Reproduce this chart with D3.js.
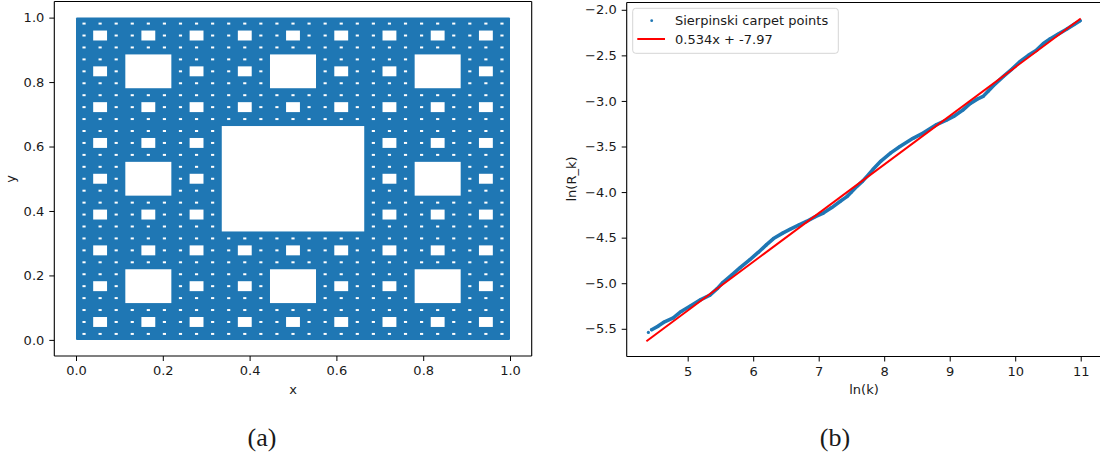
<!DOCTYPE html>
<html>
<head>
<meta charset="utf-8">
<script src="https://cdnjs.cloudflare.com/ajax/libs/d3/7.8.5/d3.min.js"></script>
<style>
  body { margin: 0; background: #fff; }
  svg text { font-family: 'DejaVu Sans', sans-serif; fill: #1a1a1a; }
  .caption { font-family: 'Liberation Serif', serif; }
</style>
</head>
<body>
<svg id="chart" width="1100" height="456"></svg>
<script>
// panel (a): Sierpinski carpet, filled square with holes down to this depth
var carpetExtent = [0, 1];
var carpetDepth = 4;
var carpetTicks = [0, 0.2, 0.4, 0.6, 0.8, 1.0];

// panel (b): ln(k) vs ln(R_k) points
var lnK = [4.40, 4.45, 4.55, 4.63, 4.78, 4.90, 5.04, 5.20, 5.34, 5.45,
  5.54, 5.67, 5.80, 5.95, 6.08, 6.20, 6.31, 6.45, 6.56, 6.70,
  6.82, 6.95, 7.07, 7.20, 7.33, 7.43, 7.50, 7.58, 7.67, 7.76,
  7.83, 7.95, 8.10, 8.24, 8.44, 8.60, 8.80, 8.95, 9.06, 9.20,
  9.31, 9.42, 9.51, 9.59, 9.67, 9.82, 9.95, 10.07, 10.20, 10.33,
  10.43, 10.53, 10.65, 10.79, 10.90, 10.99];
var lnR = [-5.54, -5.51, -5.47, -5.43, -5.38, -5.31, -5.25, -5.18, -5.13, -5.06,
  -4.99, -4.91, -4.83, -4.74, -4.66, -4.58, -4.51, -4.45, -4.41, -4.36,
  -4.32, -4.27, -4.23, -4.17, -4.10, -4.05, -4.00, -3.94, -3.88, -3.81,
  -3.75, -3.66, -3.57, -3.50, -3.41, -3.35, -3.26, -3.21, -3.17, -3.10,
  -3.03, -2.98, -2.95, -2.89, -2.83, -2.73, -2.65, -2.57, -2.50, -2.44,
  -2.37, -2.32, -2.27, -2.21, -2.16, -2.12];
var fitSlope = 0.534;
var fitIntercept = -7.97;
var fitRange = [4.37, 11.0];
var lnKTicks = [5, 6, 7, 8, 9, 10, 11];
var lnRTicks = [-5.5, -5.0, -4.5, -4.0, -3.5, -3.0, -2.5, -2.0];

var blue = '#1f77b4';
var red = '#ff0000';

var svg = d3.select('#chart');
svg.append('rect').attr('width', 1100).attr('height', 456).attr('fill', '#fff');

drawCarpet();
drawScaling();

function holes(x0, y0, size, level, out) {
  if (level === 0) return out;
  var s = size / 3;
  out.push({ x: x0 + s, y: y0 + s, s: s });
  for (var i = 0; i < 3; i++) {
    for (var j = 0; j < 3; j++) {
      if (i === 1 && j === 1) continue;
      holes(x0 + i * s, y0 + j * s, s, level - 1, out);
    }
  }
  return out;
}

function styleAxis(g) {
  g.select('.domain').remove();
  g.selectAll('.tick line').attr('stroke', '#000').attr('stroke-width', 1);
  g.selectAll('.tick text').attr('font-size', 13).attr('fill', '#1a1a1a');
}

function frame(g, x, y, clipRight) {
  var r = x.range(), t = y.range();
  var right = Math.min(r[1], 1100);
  g.append('line').attr('x1', r[0]).attr('x2', r[0]).attr('y1', t[0]).attr('y2', t[1]);
  g.append('line').attr('x1', r[0]).attr('x2', right).attr('y1', t[0]).attr('y2', t[0]);
  g.append('line').attr('x1', r[0]).attr('x2', right).attr('y1', t[1]).attr('y2', t[1]);
  if (!clipRight) {
    g.append('line').attr('x1', r[1]).attr('x2', r[1]).attr('y1', t[0]).attr('y2', t[1]);
  }
  g.selectAll('line').attr('stroke', '#000').attr('stroke-width', 1.1);
}

function drawCarpet() {
  var x = d3.scaleLinear().domain([-0.05, 1.05]).range([54.3, 531.7]);
  var y = d3.scaleLinear().domain([-0.05, 1.05]).range([356, 1.5]);
  var g = svg.append('g');

  g.append('rect')
    .attr('x', x(carpetExtent[0]))
    .attr('y', y(carpetExtent[1]))
    .attr('width', x(carpetExtent[1]) - x(carpetExtent[0]))
    .attr('height', y(carpetExtent[0]) - y(carpetExtent[1]))
    .attr('rx', 1)
    .attr('fill', blue);

  var size = carpetExtent[1] - carpetExtent[0];
  g.append('g').selectAll('rect')
    .data(holes(carpetExtent[0], carpetExtent[0], size, carpetDepth, []))
    .enter().append('rect')
    .attr('x', function(d) { return x(d.x) + 1.1; })
    .attr('y', function(d) { return y(d.y + d.s) + 1; })
    .attr('width', function(d) { return x(d.x + d.s) - x(d.x) - 2.2; })
    .attr('height', function(d) { return y(d.y) - y(d.y + d.s) - 2; })
    .attr('fill', '#fff');

  g.append('g')
    .attr('transform', 'translate(0,356)')
    .call(d3.axisBottom(x).tickValues(carpetTicks).tickFormat(d3.format('.1f')).tickSize(5).tickPadding(5))
    .call(styleAxis);
  g.append('g')
    .attr('transform', 'translate(54.3,0)')
    .call(d3.axisLeft(y).tickValues(carpetTicks).tickFormat(d3.format('.1f')).tickSize(5).tickPadding(5))
    .call(styleAxis);

  frame(g.append('g'), x, y, false);

  g.append('text').attr('x', 293).attr('y', 394).attr('text-anchor', 'middle')
    .attr('font-size', 13).text('x');
  g.append('text').attr('transform', 'translate(15,179) rotate(-90)').attr('text-anchor', 'middle')
    .attr('font-size', 13).text('y');
  g.append('text').attr('class', 'caption').attr('x', 262).attr('y', 446)
    .attr('text-anchor', 'middle').attr('font-size', 26).text('(a)');
}

function drawScaling() {
  var x = d3.scaleLinear().domain([4.069, 11.331]).range([626.7, 1102.4]);
  var y = d3.scaleLinear().domain([-5.804, -1.92]).range([356.5, 2.5]);
  var g = svg.append('g');
  var pts = lnK.map(function(k, i) { return [k, lnR[i]]; });

  var line = d3.line()
    .x(function(d) { return x(d[0]); })
    .y(function(d) { return y(d[1]); });

  g.append('path')
    .datum(pts.slice(1))
    .attr('d', line)
    .attr('fill', 'none')
    .attr('stroke', blue)
    .attr('stroke-width', 3.6)
    .attr('stroke-linejoin', 'round')
    .attr('stroke-linecap', 'round');

  g.append('g').selectAll('circle')
    .data(pts)
    .enter().append('circle')
    .attr('cx', function(d) { return x(d[0]); })
    .attr('cy', function(d) { return y(d[1]); })
    .attr('r', 1.6)
    .attr('fill', blue);

  g.append('path')
    .datum(fitRange.map(function(k) { return [k, fitSlope * k + fitIntercept]; }))
    .attr('d', line)
    .attr('fill', 'none')
    .attr('stroke', red)
    .attr('stroke-width', 2);

  g.append('g')
    .attr('transform', 'translate(0,356.5)')
    .call(d3.axisBottom(x).tickValues(lnKTicks).tickFormat(d3.format('d')).tickSize(5).tickPadding(5))
    .call(styleAxis);
  g.append('g')
    .attr('transform', 'translate(626.7,0)')
    .call(d3.axisLeft(y).tickValues(lnRTicks).tickFormat(d3.format('.1f')).tickSize(5).tickPadding(5))
    .call(styleAxis);

  frame(g.append('g'), x, y, true);

  g.append('text').attr('x', 864).attr('y', 394).attr('text-anchor', 'middle')
    .attr('font-size', 13).text('ln(k)');
  g.append('text').attr('transform', 'translate(576,179) rotate(-90)').attr('text-anchor', 'middle')
    .attr('font-size', 13).text('ln(R_k)');
  g.append('text').attr('class', 'caption').attr('x', 835).attr('y', 446)
    .attr('text-anchor', 'middle').attr('font-size', 26).text('(b)');

  // legend
  var lg = g.append('g');
  lg.append('rect')
    .attr('x', 632.7).attr('y', 8.3).attr('width', 205.6).attr('height', 45)
    .attr('rx', 3).attr('fill', '#fff').attr('fill-opacity', 0.8)
    .attr('stroke', '#d5d5d5').attr('stroke-width', 1);
  lg.append('circle').attr('cx', 651.7).attr('cy', 20.7).attr('r', 1.4).attr('fill', blue);
  lg.append('line').attr('x1', 637.3).attr('x2', 665).attr('y1', 39).attr('y2', 39)
    .attr('stroke', red).attr('stroke-width', 2);
  lg.append('text').attr('x', 675).attr('y', 25).attr('font-size', 13).text('Sierpinski carpet points');
  lg.append('text').attr('x', 675).attr('y', 44).attr('font-size', 13)
    .text(fitSlope + 'x + ' + fitIntercept);
}
</script>
</body>
</html>
